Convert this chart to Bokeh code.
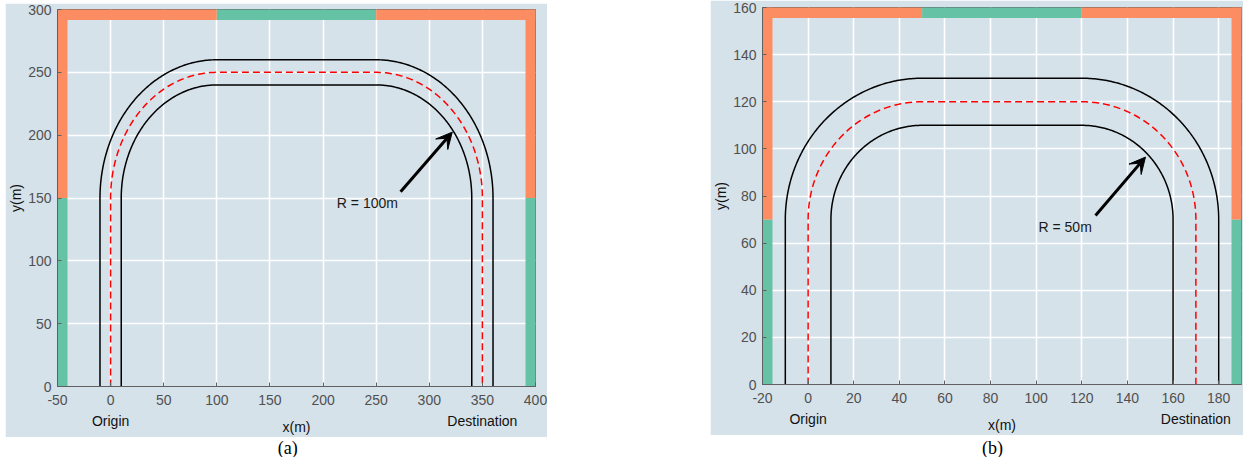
import numpy as np
from bokeh.plotting import figure
from bokeh.models import Label, Arrow, VeeHead, FixedTicker, Spacer, LinearAxis
from bokeh.layouts import row, column
from bokeh.embed import file_html
from bokeh.resources import INLINE
from bokeh.core.properties import value

# ---------------- data: panel (a) ----------------
a_x_range = (-50, 400)
a_y_range = (0, 300)
a_x_ticks = [-50, 0, 50, 100, 150, 200, 250, 300, 350, 400]
a_y_ticks = [0, 50, 100, 150, 200, 250, 300]
a_origin_x = 0
a_dest_x = 350
a_turn_y = 150
a_radius = 100
a_half_width = 10
a_top_breaks = [-50, 100, 250, 400]
a_top_kinds = ["orange", "green", "orange"]
a_side_breaks = [0, 150, 300]
a_side_kinds = ["green", "orange"]
a_arrow_tail = (273, 155)
a_arrow_tip = (321.6, 202.4)
a_radius_label_xy = (213, 146)
a_radius_label = "R = 100m"
a_caption = "(a)"

# ---------------- data: panel (b) ----------------
b_x_range = (-20, 190)
b_y_range = (0, 160)
b_x_ticks = [-20, 0, 20, 40, 60, 80, 100, 120, 140, 160, 180]
b_y_ticks = [0, 20, 40, 60, 80, 100, 120, 140, 160]
b_origin_x = 0
b_dest_x = 170
b_turn_y = 70
b_radius = 50
b_half_width = 10
b_top_breaks = [-20, 50, 120, 190]
b_top_kinds = ["orange", "green", "orange"]
b_side_breaks = [0, 70, 160]
b_side_kinds = ["green", "orange"]
b_arrow_tail = (126, 71.7)
b_arrow_tip = (147.9, 96.5)
b_radius_label_xy = (101, 66.8)
b_radius_label = "R = 50m"
b_caption = "(b)"

x_label = "x(m)"
y_label = "y(m)"
origin_label = "Origin"
dest_label = "Destination"

# ---------------- styles ----------------
BG = "#d6e2ea"
ORANGE = "#fc8d62"
GREEN = "#66c2a5"
AXC = "#606060"
TICKC = "#505050"
FONT = "Liberation Sans"
KIND_COLOR = {"orange": ORANGE, "green": GREEN}


def road_path(x0, x1, turn_y, R, d, n=120):
    t1 = np.linspace(np.pi, np.pi / 2, n)
    t2 = np.linspace(np.pi / 2, 0, n)
    r = R + d
    cl = x0 + R
    cr = x1 - R
    xs = np.concatenate([[x0 - d], cl + r * np.cos(t1), cr + r * np.cos(t2), [x1 + d]])
    ys = np.concatenate([[0], turn_y + r * np.sin(t1), turn_y + r * np.sin(t2), [0]])
    return xs, ys


def make_panel(W, H, mb, xr, yr, xt, yt, x0, x1, ty, R, hw,
               top_breaks, top_kinds, side_breaks, side_kinds,
               tail, tip, rl_xy, rl_text):
    p = figure(width=W, height=H, x_range=xr, y_range=yr,
               output_backend="svg", toolbar_location=None,
               min_border_left=mb[0], min_border_right=mb[1],
               min_border_top=mb[2], min_border_bottom=mb[3])
    p.background_fill_color = BG
    p.border_fill_color = BG
    p.outline_line_color = AXC
    p.outline_line_width = 1

    for ax, ticks in ((p.xaxis, xt), (p.yaxis, yt)):
        ax.ticker = FixedTicker(ticks=ticks)
        ax.major_label_overrides = {t: str(t) for t in ticks}
        ax.major_label_text_font = FONT
        ax.major_label_text_font_size = "14px"
        ax.major_label_text_color = TICKC
        ax.axis_line_color = AXC
        ax.major_tick_line_color = AXC
        ax.major_tick_in = 4
        ax.major_tick_out = 0
        ax.minor_tick_line_color = None
    p.xaxis.major_label_standoff = 8
    p.yaxis.major_label_standoff = 6
    p.yaxis.axis_label = y_label
    p.yaxis.axis_label_text_font = FONT
    p.yaxis.axis_label_text_font_size = "14px"
    p.yaxis.axis_label_text_font_style = "normal"
    p.yaxis.axis_label_text_color = "#111111"
    p.yaxis.axis_label_standoff = 1

    # second axis below: Origin / Destination labels and x(m)
    ax2 = LinearAxis(ticker=FixedTicker(ticks=[x0, x1]),
                     major_label_overrides={x0: origin_label, x1: dest_label})
    ax2.axis_line_color = None
    ax2.major_tick_line_color = None
    ax2.minor_tick_line_color = None
    ax2.major_tick_in = 0
    ax2.major_tick_out = 0
    ax2.major_label_standoff = 5
    ax2.major_label_text_font = FONT
    ax2.major_label_text_font_size = "14px"
    ax2.major_label_text_color = "#111111"
    ax2.axis_label = x_label
    ax2.axis_label_text_font = FONT
    ax2.axis_label_text_font_size = "14px"
    ax2.axis_label_text_font_style = "normal"
    ax2.axis_label_text_color = "#111111"
    ax2.axis_label_standoff = -13
    p.add_layout(ax2, "below")

    p.grid.grid_line_color = "white"
    p.grid.grid_line_width = 1.6
    p.grid.grid_line_alpha = 1.0

    # coloured border strips (half of a wide line is clipped by the frame)
    xmin, xmax = xr
    ymin, ymax = yr
    for i, k in enumerate(top_kinds):
        p.segment(x0=[top_breaks[i]], y0=[ymax], x1=[top_breaks[i + 1]], y1=[ymax],
                  line_width=21, line_color=KIND_COLOR[k], line_cap="butt")
    for i, k in enumerate(side_kinds):
        for sx in (xmin, xmax):
            p.segment(x0=[sx], y0=[side_breaks[i]], x1=[sx], y1=[side_breaks[i + 1]],
                      line_width=20, line_color=KIND_COLOR[k], line_cap="butt")

    # road
    for d in (hw, -hw):
        xs, ys = road_path(x0, x1, ty, R, d)
        p.line(xs, ys, line_color="black", line_width=1.5)
    xs, ys = road_path(x0, x1, ty, R, 0)
    p.line(xs, ys, line_color="#ff0000", line_width=1.5, line_dash="7 4")

    p.add_layout(Arrow(end=VeeHead(size=16, fill_color="black", line_color="black"),
                       x_start=tail[0], y_start=tail[1], x_end=tip[0], y_end=tip[1],
                       line_width=3, line_color="black"))
    p.add_layout(Label(x=rl_xy[0], y=rl_xy[1], text=rl_text, text_font=FONT,
                       text_font_size="14px", text_color="#1a1a1a",
                       text_align="left", text_baseline="middle"))
    return p


def caption_fig(W, H, cx, cy, text):
    c = figure(width=W, height=H, x_range=(0, W), y_range=(0, H),
               output_backend="svg", toolbar_location=None,
               min_border=0)
    c.axis.visible = False
    c.grid.visible = False
    c.outline_line_color = None
    c.background_fill_color = "white"
    c.border_fill_color = "white"
    c.text(x=[cx], y=[cy], text=[text], text_font=value("Liberation Serif"),
           text_font_size="18px", text_color="black",
           text_align="center", text_baseline="middle")
    return c


pa = make_panel(542, 434, (52, 12, 6, 51), a_x_range, a_y_range, a_x_ticks, a_y_ticks,
                a_origin_x, a_dest_x, a_turn_y, a_radius, a_half_width,
                a_top_breaks, a_top_kinds, a_side_breaks, a_side_kinds,
                a_arrow_tail, a_arrow_tip, a_radius_label_xy, a_radius_label)
pb = make_panel(533, 435, (52, 2, 7, 51), b_x_range, b_y_range, b_x_ticks, b_y_ticks,
                b_origin_x, b_dest_x, b_turn_y, b_radius, b_half_width,
                b_top_breaks, b_top_kinds, b_side_breaks, b_side_kinds,
                b_arrow_tail, b_arrow_tip, b_radius_label_xy, b_radius_label)
ca = caption_fig(542, 20, 261, 10, a_caption)
cb = caption_fig(533, 22, 256, 10, b_caption)

layout = row(Spacer(width=5, height=457),
             column(Spacer(width=542, height=3), pa, ca),
             Spacer(width=163, height=457),
             column(pb, cb))

open("out.html", "w").write(file_html(layout, INLINE))
